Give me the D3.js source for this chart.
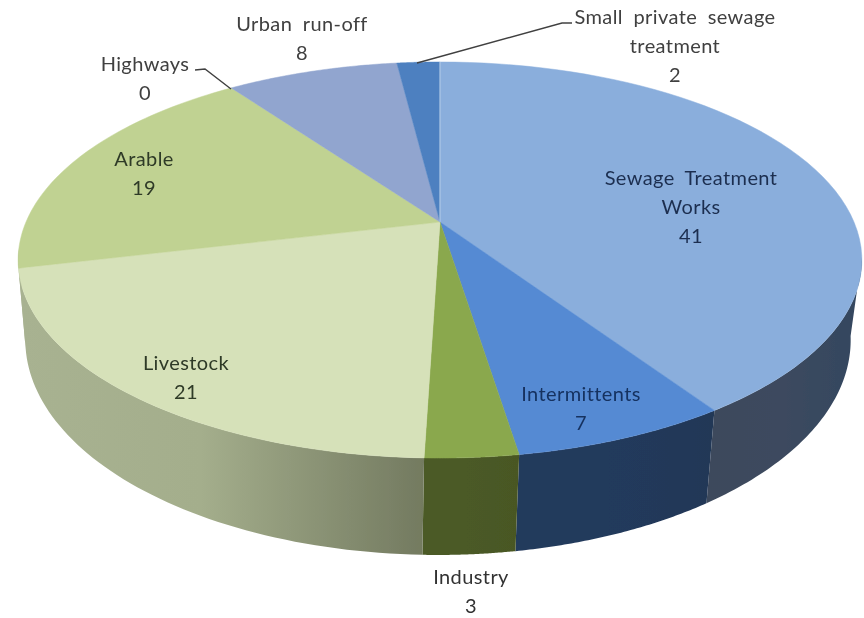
<!DOCTYPE html>
<html>
<head>
<meta charset="utf-8">
<script src="https://cdnjs.cloudflare.com/ajax/libs/d3/7.8.5/d3.min.js"></script>
<style>
html,body{margin:0;padding:0;background:#fff;}
svg{display:block;}
text{font-family:Lato,"Open Sans",sans-serif;font-size:20px;text-anchor:middle;letter-spacing:.4px;word-spacing:5px;}
</style>
</head>
<body>
<svg id="c" width="864" height="618"></svg>
<script>
const categories = ["Sewage Treatment Works","Intermittents","Industry","Livestock","Arable","Highways","Urban run-off","Small private sewage treatment"];
const values = [41,7,3,21,19,0,8,2];
const labelLines = [["Sewage Treatment","Works","41"],["Intermittents","7"],["Industry","3"],["Livestock","21"],["Arable","19"],["Highways","0"],["Urban run-off","8"],["Small private sewage","treatment","2"]];
const labelAnchors = [[691,185],[581,401],[471,584],[186,370],[144,166],[145,71],[302,31],[675,24]];
const labelColors = ["#1d2f50","#14305f","#333","#2f3a28","#2f3a28","#404040","#404040","#404040"];
const topColors = ["#8aaedc","#558ad3","#8aa84e","#d6e1b9","#c0d292","#b0c080","#91a5cf","#4d80c0"];
const wallColors = [["#3e4a5c","#3d4a5e","#33465f"],["#243a5c","#243a5c","#233857"],["#4b5a26","#4b5a26","#495724"],["#a8b291","#a4ae8c","#737a60"],["#a8b291","#a8b291","#a8b291"],["#888","#888","#888"],["#888","#888","#888"],["#888","#888","#888"]];
const leaders = [[[195,70],[205,69],[231,89]],[[572,23],[562,23],[417,63]]];

const svg = d3.select("#c");
const defs = svg.append("defs");
defs.append("filter").attr("id","soft").append("feGaussianBlur").attr("stdDeviation",0.35);
const root = svg.append("g").attr("filter","url(#soft)");

const arcs = d3.pie().sort(null).startAngle(0).endAngle(2*Math.PI)(values);

const k = 0.192;
const topPlane = {xc:440, c:414, a:222, b:-148.1};
const basePlane = {xc:438, c:405, a:298.7, b:-149.7};
function project(t, p, r=1){
  const u = r*Math.sin(t), v = r*Math.cos(t), w = 1+k*v;
  return [p.xc + p.c*u/w, (p.a + p.b*v)/w];
}
const samples = (a0,a1) => d3.range(0,61).map(i => a0+(a1-a0)*i/60);
const line = d3.line();
const wallStart = 100*Math.PI/180, wallEnd = 262*Math.PI/180;

// side walls
arcs.forEach((d,i) => {
  const a0 = Math.max(d.startAngle, wallStart), a1 = Math.min(d.endAngle, wallEnd);
  if (a1 <= a0) return;
  const pts = samples(a0,a1);
  const poly = pts.map(t => project(t,topPlane)).concat(pts.slice().reverse().map(t => project(t,basePlane)));
  const xs = d3.extent(poly, q => q[0]);
  const g = defs.append("linearGradient").attr("id","w"+i).attr("gradientUnits","userSpaceOnUse")
    .attr("x1",xs[0]).attr("x2",xs[1]).attr("y1",0).attr("y2",0);
  [0,0.45,1].forEach((o,j) => g.append("stop").attr("offset",o).attr("stop-color",wallColors[i][j]));
  root.append("path").attr("d",line(poly)+"Z").attr("fill","url(#w"+i+")");
});

// top faces
const apex = project(0,topPlane,0);
arcs.forEach((d,i) => {
  if (d.endAngle <= d.startAngle) return;
  const poly = [apex].concat(samples(d.startAngle,d.endAngle).map(t => project(t,topPlane)));
  root.append("path").attr("d",line(poly)+"Z").attr("fill",topColors[i])
    .attr("stroke",topColors[i]).attr("stroke-width",0.5);
});
// light seam at the start of the first slice
root.append("path").attr("d",line([apex,project(0,topPlane)]))
  .attr("stroke","#c4d8ef").attr("stroke-width",1).attr("fill","none");

// leader lines
leaders.forEach(l => root.append("path").attr("d",line(l)).attr("fill","none")
  .attr("stroke","#404040").attr("stroke-width",1.4));

// labels
categories.forEach((c,i) => {
  const t = root.append("text").attr("fill",labelColors[i]);
  labelLines[i].forEach((s,j) => t.append("tspan")
    .attr("x",labelAnchors[i][0]).attr("y",labelAnchors[i][1]+j*29).text(s));
});
</script>
</body>
</html>
